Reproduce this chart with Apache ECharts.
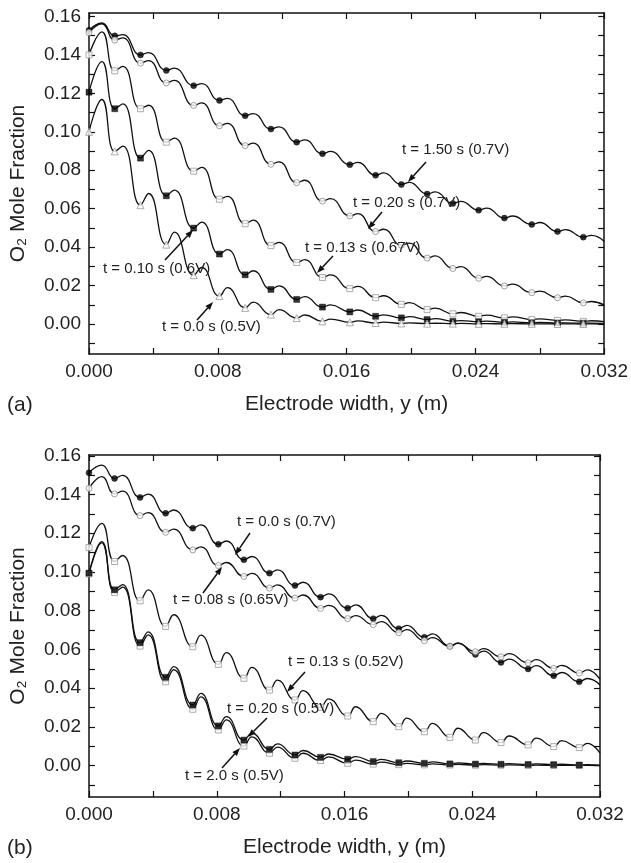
<!DOCTYPE html>
<html><head><meta charset="utf-8">
<script src="https://cdn.jsdelivr.net/npm/echarts@6/dist/echarts.min.js"></script>
<style>html,body{margin:0;padding:0;background:#fff}#c{width:631px;height:863px}</style>
</head><body><div id="c"></div>
<script>
// ---------- shared x positions (m) ----------
const markerX = [0, 0.0016, 0.0032, 0.0048, 0.0065, 0.0081, 0.0097, 0.0113, 0.0129, 0.0145, 0.0162, 0.0178, 0.0194, 0.0210, 0.0226, 0.0242, 0.0258, 0.0275, 0.0291, 0.0307];
const humpX   = [0.0008, 0.0021, 0.0037, 0.0053, 0.0070, 0.0086, 0.0102, 0.0118, 0.0134, 0.0150, 0.0167, 0.0183, 0.0199, 0.0215, 0.0231, 0.0247, 0.0263, 0.0280, 0.0296, 0.0312];
const endX = 0.032;

// ---------- axis ticks / labels ----------
const xTickVals  = [0, 0.004, 0.008, 0.012, 0.016, 0.020, 0.024, 0.028, 0.032];
const xLabelVals = [0, 0.008, 0.016, 0.024, 0.032];
const yTickVals  = [-0.01, 0, 0.01, 0.02, 0.03, 0.04, 0.05, 0.06, 0.07, 0.08, 0.09, 0.10, 0.11, 0.12, 0.13, 0.14, 0.15, 0.16];
const yLabelVals = [0, 0.02, 0.04, 0.06, 0.08, 0.10, 0.12, 0.14, 0.16];

// ---------- panel (a) ----------
const a_t150_mk = [0.1528, 0.1499, 0.1400, 0.1319, 0.1240, 0.1163, 0.1083, 0.1014, 0.0946, 0.0886, 0.0829, 0.0774, 0.0726, 0.0676, 0.0627, 0.0592, 0.0551, 0.0518, 0.0481, 0.0452];
const a_t150_hp = [0.1566, 0.1505, 0.1412, 0.1331, 0.1251, 0.1174, 0.1095, 0.1026, 0.0958, 0.0898, 0.0841, 0.0786, 0.0737, 0.0687, 0.0638, 0.0603, 0.0562, 0.0528, 0.0491, 0.0461];
const a_t150_end = 0.0429;

const a_t020_mk = [0.1516, 0.1477, 0.1357, 0.1254, 0.1137, 0.1031, 0.0928, 0.0831, 0.0735, 0.0639, 0.0562, 0.0481, 0.0410, 0.0343, 0.0289, 0.0238, 0.0198, 0.0163, 0.0137, 0.0110];
const a_t020_hp = [0.1562, 0.1489, 0.1370, 0.1267, 0.1150, 0.1044, 0.0941, 0.0844, 0.0748, 0.0652, 0.0574, 0.0493, 0.0421, 0.0354, 0.0299, 0.0248, 0.0207, 0.0171, 0.0145, 0.0117];
const a_t020_end = 0.0098;

const a_t013_mk = [0.1400, 0.1317, 0.1120, 0.0946, 0.0795, 0.0649, 0.0522, 0.0408, 0.0320, 0.0242, 0.0184, 0.0137, 0.0102, 0.0075, 0.0053, 0.0040, 0.0032, 0.0023, 0.0019, 0.0014];
const a_t013_hp = [0.1520, 0.1340, 0.1138, 0.0967, 0.0815, 0.0664, 0.0540, 0.0425, 0.0335, 0.0256, 0.0196, 0.0147, 0.0111, 0.0083, 0.0060, 0.0046, 0.0037, 0.0027, 0.0022, 0.0017];
const a_t013_end = 0.0012;

const a_t010_mk = [0.1206, 0.1120, 0.0863, 0.0667, 0.0499, 0.0364, 0.0256, 0.0180, 0.0128, 0.0088, 0.0063, 0.0040, 0.0032, 0.0023, 0.0014, 0.0012, 0.0009, 0.0006, 0.0005, 0.0004];
const a_t010_hp = [0.1365, 0.1145, 0.0903, 0.0697, 0.0530, 0.0387, 0.0277, 0.0198, 0.0143, 0.0100, 0.0073, 0.0048, 0.0038, 0.0028, 0.0018, 0.0015, 0.0011, 0.0008, 0.0006, 0.0005];
const a_t010_end = 0.0003;

const a_t000_mk = [0.1000, 0.0898, 0.0618, 0.0413, 0.0254, 0.0145, 0.0084, 0.0049, 0.0031, 0.0014, 0.0009, 0.0005, 0.0003, 0.0002, 0.0002, 0.0001, 0.0001, 0.0001, 0.0000, 0.0000];
const a_t000_hp = [0.1168, 0.0925, 0.0679, 0.0478, 0.0294, 0.0189, 0.0114, 0.0075, 0.0047, 0.0025, 0.0016, 0.0010, 0.0006, 0.0004, 0.0003, 0.0002, 0.0002, 0.0001, 0.0001, 0.0001];
const a_t000_end = 0.0000;

// ---------- panel (b) ----------
const b_t000_mk = [0.1512, 0.1483, 0.1385, 0.1303, 0.1226, 0.1143, 0.1063, 0.0994, 0.0930, 0.0870, 0.0813, 0.0759, 0.0707, 0.0663, 0.0617, 0.0574, 0.0533, 0.0499, 0.0464, 0.0433];
const b_t000_hp = [0.1552, 0.1499, 0.1402, 0.1320, 0.1243, 0.1160, 0.1080, 0.1011, 0.0947, 0.0887, 0.0830, 0.0776, 0.0724, 0.0680, 0.0634, 0.0591, 0.0550, 0.0516, 0.0481, 0.0450];
const b_t000_end = 0.0416;

const b_t008_mk = [0.1432, 0.1403, 0.1291, 0.1205, 0.1114, 0.1033, 0.0977, 0.0917, 0.0865, 0.0812, 0.0759, 0.0728, 0.0686, 0.0645, 0.0615, 0.0588, 0.0562, 0.0531, 0.0502, 0.0478];
const b_t008_hp = [0.1492, 0.1417, 0.1306, 0.1221, 0.1130, 0.1049, 0.0993, 0.0933, 0.0881, 0.0828, 0.0775, 0.0744, 0.0702, 0.0661, 0.0631, 0.0604, 0.0578, 0.0547, 0.0518, 0.0494];
const b_t008_end = 0.0445;

const b_t013_mk = [0.1126, 0.1054, 0.0851, 0.0719, 0.0614, 0.0523, 0.0451, 0.0390, 0.0339, 0.0301, 0.0256, 0.0227, 0.0201, 0.0175, 0.0146, 0.0132, 0.0119, 0.0107, 0.0098, 0.0093];
const b_t013_hp = [0.1251, 0.1085, 0.0908, 0.0779, 0.0674, 0.0583, 0.0507, 0.0442, 0.0387, 0.0345, 0.0304, 0.0270, 0.0245, 0.0218, 0.0193, 0.0170, 0.0153, 0.0142, 0.0129, 0.0115];
const b_t013_end = 0.0064;

const b_t020_mk = [0.0994, 0.0908, 0.0635, 0.0456, 0.0313, 0.0205, 0.0132, 0.0084, 0.0055, 0.0043, 0.0033, 0.0021, 0.0015, 0.0012, 0.0009, 0.0008, 0.0007, 0.0006, 0.0005, 0.0003];
const b_t020_hp = [0.1157, 0.0935, 0.0691, 0.0511, 0.0373, 0.0253, 0.0168, 0.0112, 0.0078, 0.0060, 0.0047, 0.0032, 0.0024, 0.0019, 0.0014, 0.0012, 0.0010, 0.0009, 0.0007, 0.0005];
const b_t020_end = 0.0002;

const b_t200_mk = [0.0990, 0.0894, 0.0617, 0.0433, 0.0291, 0.0184, 0.0101, 0.0064, 0.0038, 0.0026, 0.0012, 0.0008, 0.0005, 0.0004, 0.0003, 0.0002, 0.0002, 0.0001, 0.0001, 0.0001];
const b_t200_hp = [0.1150, 0.0922, 0.0675, 0.0495, 0.0355, 0.0236, 0.0148, 0.0096, 0.0064, 0.0045, 0.0028, 0.0018, 0.0012, 0.0009, 0.0007, 0.0005, 0.0004, 0.0003, 0.0002, 0.0002];
const b_t200_end = 0.0000;

// ---------- annotations ----------
const notesA = [
  {text: 't = 1.50 s (0.7V)', tx: 402, ty: 150, from: [426, 162], to: [408, 182]},
  {text: 't = 0.20 s (0.7V)', tx: 353, ty: 203, from: [382, 212], to: [368, 229]},
  {text: 't = 0.13 s (0.67V)', tx: 305, ty: 248, from: [333, 256], to: [317, 273]},
  {text: 't = 0.10 s (0.6V)', tx: 103, ty: 269, from: [165, 260], to: [193, 230]},
  {text: 't = 0.0 s (0.5V)', tx: 162, ty: 327, from: [197, 320], to: [213, 302]}
];
const notesB = [
  {text: 't = 0.0 s (0.7V)', tx: 237, ty: 522, from: [250, 533], to: [235, 555]},
  {text: 't = 0.08 s (0.65V)', tx: 173, ty: 600, from: [203, 593], to: [222, 567]},
  {text: 't = 0.13 s (0.52V)', tx: 288, ty: 662, from: [305, 672], to: [287, 692]},
  {text: 't = 0.20 s (0.5V)', tx: 227, ty: 709, from: [267, 718], to: [248, 737]},
  {text: 't = 2.0 s (0.5V)', tx: 185, ty: 776, from: [222, 768], to: [240, 748]}
];

const FONT = '"Liberation Sans", Arial, Helvetica, sans-serif';
const INK = '#111';
const TXT = '#222';

function curve(mk, hp, end) {
  const pts = [];
  for (let k = 0; k < mk.length; k++) {
    pts.push([markerX[k], mk[k]]);
    pts.push([humpX[k], hp[k]]);
  }
  pts.push([endX, end]);
  return pts;
}
function marks(mk) { return mk.map((v, k) => [markerX[k], v]); }

const STYLES = {
  filledCircle: {symbol: 'circle', size: 6, itemStyle: {color: '#000', borderColor: '#000', borderWidth: 0.5}},
  openCircle:   {symbol: 'circle', size: 6, itemStyle: {color: '#fff', borderColor: '#888', borderWidth: 1}},
  openSquare:   {symbol: 'rect', size: 6, itemStyle: {color: '#fff', borderColor: '#999', borderWidth: 1}},
  filledSquare: {symbol: 'rect', size: 6, itemStyle: {color: '#000', borderColor: '#000', borderWidth: 0.5}},
  openTriangle: {symbol: 'triangle', size: 7, itemStyle: {color: '#fff', borderColor: '#999', borderWidth: 1}}
};

const series = [];
function addCurve(grid, mk, hp, end, style) {
  series.push({
    type: 'line', xAxisIndex: grid * 2, yAxisIndex: grid * 2,
    data: curve(mk, hp, end), smooth: 0.5, showSymbol: false, silent: true,
    lineStyle: {color: INK, width: 1.3}, z: 2
  });
  const st = STYLES[style];
  series.push({
    type: 'scatter', xAxisIndex: grid * 2, yAxisIndex: grid * 2,
    data: marks(mk), symbol: st.symbol, symbolSize: st.size, itemStyle: st.itemStyle,
    silent: true, z: 3, clip: false
  });
}
addCurve(0, a_t150_mk, a_t150_hp, a_t150_end, 'filledCircle');
addCurve(0, a_t020_mk, a_t020_hp, a_t020_end, 'openCircle');
addCurve(0, a_t013_mk, a_t013_hp, a_t013_end, 'openSquare');
addCurve(0, a_t010_mk, a_t010_hp, a_t010_end, 'filledSquare');
addCurve(0, a_t000_mk, a_t000_hp, a_t000_end, 'openTriangle');

addCurve(1, b_t000_mk, b_t000_hp, b_t000_end, 'filledCircle');
addCurve(1, b_t008_mk, b_t008_hp, b_t008_end, 'openCircle');
addCurve(1, b_t013_mk, b_t013_hp, b_t013_end, 'openSquare');
addCurve(1, b_t200_mk, b_t200_hp, b_t200_end, 'openSquare');
addCurve(1, b_t020_mk, b_t020_hp, b_t020_end, 'filledSquare');

const axisLine = {show: true, onZero: false, lineStyle: {color: INK, width: 1.5}};
function xAxes(grid) {
  return [
    {gridIndex: grid, type: 'value', min: 0, max: 0.032, position: 'bottom',
     axisLine: axisLine, splitLine: {show: false},
     axisTick: {show: true, inside: true, length: 6, customValues: xTickVals, lineStyle: {color: INK, width: 1.2}},
     axisLabel: {show: true, customValues: xLabelVals, formatter: v => (+v).toFixed(3), fontSize: 19, fontFamily: FONT, color: TXT, margin: 8},
     name: 'Electrode width, y (m)', nameLocation: 'middle', nameGap: 40,
     nameTextStyle: {fontSize: 21, fontFamily: FONT, color: TXT}},
    {gridIndex: grid, type: 'value', min: 0, max: 0.032, position: 'top',
     axisLine: axisLine, splitLine: {show: false},
     axisTick: {show: true, inside: true, length: 6, customValues: xTickVals, lineStyle: {color: INK, width: 1.2}},
     axisLabel: {show: false}}
  ];
}
function yAxes(grid, mn, mx) {
  return [
    {gridIndex: grid, type: 'value', min: mn, max: mx, position: 'left',
     axisLine: axisLine, splitLine: {show: false},
     axisTick: {show: true, inside: true, length: 6, customValues: yTickVals, lineStyle: {color: INK, width: 1.2}},
     axisLabel: {show: true, customValues: yLabelVals, formatter: v => (+v).toFixed(2), fontSize: 19, fontFamily: FONT, color: TXT, margin: 8},
     name: 'O\u2082 Mole Fraction', nameLocation: 'middle', nameGap: 60, nameRotate: 90,
     nameTextStyle: {fontSize: 21, fontFamily: FONT, color: TXT}},
    {gridIndex: grid, type: 'value', min: mn, max: mx, position: 'right',
     axisLine: axisLine, splitLine: {show: false},
     axisTick: {show: true, inside: true, length: 6, customValues: yTickVals, lineStyle: {color: INK, width: 1.2}},
     axisLabel: {show: false}}
  ];
}

function arrow(n) {
  const [x1, y1] = n.from, [x2, y2] = n.to;
  const ang = Math.atan2(y2 - y1, x2 - x1);
  const L = 8, W = 3;
  const bx = x2 - L * Math.cos(ang), by = y2 - L * Math.sin(ang);
  const px = -Math.sin(ang) * W, py = Math.cos(ang) * W;
  return [
    {type: 'line', shape: {x1: x1, y1: y1, x2: bx, y2: by}, style: {stroke: INK, lineWidth: 1.5}, z: 10},
    {type: 'polygon', shape: {points: [[x2, y2], [bx + px, by + py], [bx - px, by - py]]}, style: {fill: INK}, z: 10}
  ];
}
function note(n) {
  return {type: 'text', x: n.tx, y: n.ty, z: 10,
    style: {text: n.text, font: '15px ' + FONT, fontSize: 15, fontFamily: FONT, fill: TXT,
            align: 'left', verticalAlign: 'middle', textAlign: 'left', textVerticalAlign: 'middle'}};
}
const graphics = [];
notesA.concat(notesB).forEach(n => { graphics.push(note(n)); arrow(n).forEach(g => graphics.push(g)); });
graphics.push({type: 'text', x: 7, y: 405, style: {text: '(a)', font: '21px ' + FONT, fontSize: 21, fontFamily: FONT, fill: TXT, verticalAlign: 'middle', textVerticalAlign: 'middle'}});
graphics.push({type: 'text', x: 7, y: 848, style: {text: '(b)', font: '21px ' + FONT, fontSize: 21, fontFamily: FONT, fill: TXT, verticalAlign: 'middle', textVerticalAlign: 'middle'}});

const chart = echarts.init(document.getElementById('c'), null, {renderer: 'canvas'});
chart.setOption({
  animation: false,
  backgroundColor: '#fff',
  textStyle: {fontFamily: FONT},
  grid: [
    {left: 88, top: 13, width: 519, height: 341, containLabel: false},
    {left: 83, top: 455, width: 517, height: 342, containLabel: false}
  ],
  xAxis: xAxes(0).concat(xAxes(1)),
  yAxis: yAxes(0, -0.0156, 0.1618).concat(yAxes(1, -0.0162, 0.1604)),
  series: series,
  graphic: graphics
});
</script>
</body></html>
